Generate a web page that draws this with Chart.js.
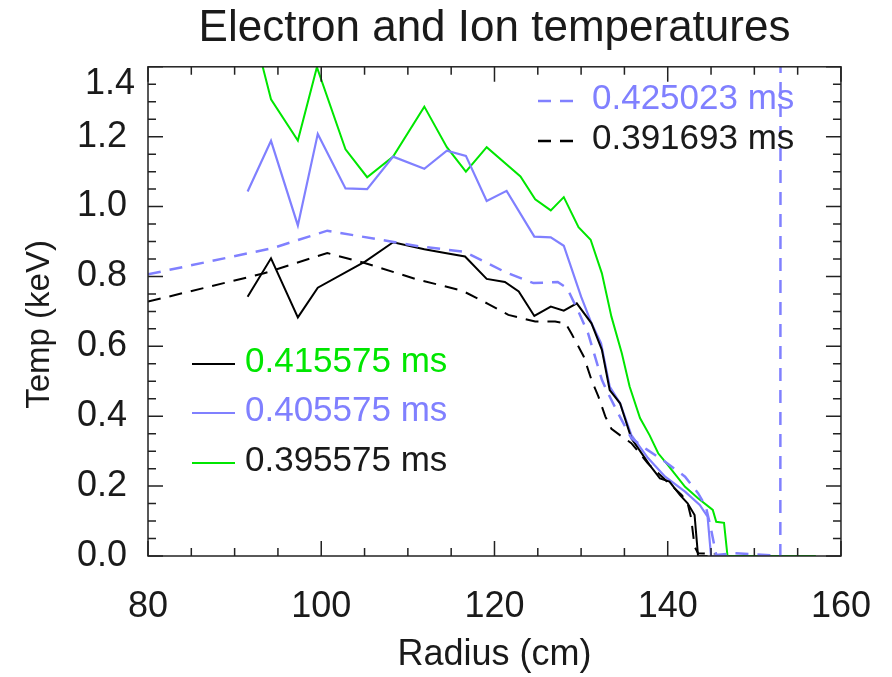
<!DOCTYPE html>
<html>
<head>
<meta charset="utf-8">
<title>Electron and Ion temperatures</title>
<script src="https://cdn.jsdelivr.net/npm/chart.js@4.4.0/dist/chart.umd.min.js"></script>
<style>
  html, body { margin: 0; padding: 0; background: #fff; }
  #wrap { width: 892px; height: 677px; }
</style>
</head>
<body>
<div id="wrap"><canvas id="tempChart" width="892" height="677"></canvas></div>
<script>
// Profile data: radius (cm) / temperature (keV)
const blueDashR = [80.0, 94.4, 100.7, 111.3, 116.5, 121.2, 124.5, 127.3, 128.4, 129.7, 130.8, 131.6, 132.4, 133.1, 134.3, 135.8, 137.7, 139.7, 142.0, 143.5, 144.4, 144.9, 145.6, 147.7, 150.0, 153.0, 153.05]
const blueDashT = [0.806, 0.881, 0.931, 0.886, 0.871, 0.813, 0.781, 0.784, 0.766, 0.699, 0.638, 0.571, 0.504, 0.466, 0.407, 0.337, 0.303, 0.270, 0.227, 0.180, 0.141, 0.089, 0.003, 0.008, 0.005, 0.0, 3.0]

const blackDashR = [80.0, 93.4, 100.7, 105.1, 111.0, 116.3, 119.3, 121.6, 124.7, 127.0, 128.2, 128.9, 130.3, 131.2, 132.0, 132.8, 133.5, 134.7, 135.8, 137.7, 139.7, 141.6, 142.3, 142.7, 143.1, 143.5, 145.4]
const blackDashT = [0.728, 0.809, 0.867, 0.838, 0.792, 0.759, 0.721, 0.690, 0.671, 0.671, 0.666, 0.636, 0.571, 0.504, 0.456, 0.399, 0.364, 0.342, 0.323, 0.265, 0.218, 0.175, 0.151, 0.109, 0.027, 0.008, 0.006]

const blackR = [91.5, 94.2, 97.3, 99.6, 105.1, 108.3, 111.9, 114.3, 116.6, 119.1, 121.2, 122.8, 124.6, 126.5, 128.0, 129.5, 131.2, 132.4, 133.3, 134.5, 135.8, 137.9, 139.1, 140.2, 141.4, 142.3, 143.1, 143.5, 144.6]
const blackT = [0.742, 0.852, 0.683, 0.768, 0.843, 0.898, 0.878, 0.867, 0.857, 0.793, 0.784, 0.757, 0.687, 0.714, 0.702, 0.723, 0.666, 0.590, 0.475, 0.437, 0.337, 0.261, 0.222, 0.213, 0.175, 0.151, 0.117, 0.0, 0.0]

const blueR = [91.5, 94.2, 97.3, 99.6, 102.8, 105.3, 108.3, 111.9, 114.5, 116.7, 119.1, 121.4, 124.6, 126.5, 128.0, 130.0, 131.2, 132.3, 133.3, 134.5, 135.8, 137.7, 139.7, 142.0, 143.7, 144.6, 145.0, 147.0]
const blueT = [1.043, 1.188, 0.946, 1.208, 1.052, 1.050, 1.143, 1.108, 1.160, 1.145, 1.016, 1.045, 0.914, 0.912, 0.888, 0.742, 0.666, 0.609, 0.485, 0.437, 0.346, 0.281, 0.227, 0.184, 0.146, 0.113, 0.0, 0.0]

const greenR = [91.7, 94.2, 97.3, 99.5, 102.8, 105.3, 108.3, 111.9, 114.5, 116.7, 119.1, 123.0, 124.7, 126.5, 128.0, 129.7, 131.1, 132.4, 133.5, 134.7, 135.6, 136.8, 137.9, 138.9, 140.0, 142.0, 143.5, 145.2, 145.6, 146.5, 146.9, 150.0, 157.1]
const greenT = [1.55, 1.307, 1.189, 1.399, 1.164, 1.084, 1.143, 1.286, 1.170, 1.100, 1.170, 1.086, 1.021, 0.989, 1.027, 0.941, 0.905, 0.809, 0.685, 0.580, 0.485, 0.395, 0.346, 0.294, 0.261, 0.198, 0.165, 0.132, 0.098, 0.095, 0.0, 0.0, 0.0]

// Legend labels and ticks
const seriesLabels = ["0.425023 ms", "0.391693 ms", "0.415575 ms", "0.405575 ms", "0.395575 ms"]
const xTicks = [80, 100, 120, 140, 160]
const yTicks = [0.0, 0.2, 0.4, 0.6, 0.8, 1.0, 1.2, 1.4]

const BLUE = "#8080ff"
const GREEN = "#00e600"
const BLACK = "#000000"
const TEXT = "#1a1a1a"
const FONT = "'Liberation Sans', Arial, Helvetica, sans-serif"
const DASH = [13, 9]

function toPoints(xs, ys) {
  return xs.map((x, i) => ({ x: x, y: ys[i] }))
}

// Box frame with inward major/minor ticks on all four sides
const boxPlugin = {
  id: "box",
  afterDraw(chart) {
    const { ctx, chartArea: a, scales } = chart
    const x = scales.x, y = scales.y
    ctx.save()
    ctx.strokeStyle = "#222"
    ctx.lineWidth = 1.5
    ctx.strokeRect(a.left, a.top, a.right - a.left, a.bottom - a.top)
    ctx.beginPath()
    for (let v = 80; v <= 160; v += 5) {
      const px = x.getPixelForValue(v)
      const len = v % 20 === 0 ? 15 : 8
      ctx.moveTo(px, a.bottom); ctx.lineTo(px, a.bottom - len)
      ctx.moveTo(px, a.top); ctx.lineTo(px, a.top + len)
    }
    for (let i = 0; i <= 28; i++) {
      const py = y.getPixelForValue(i * 0.05)
      const len = i % 4 === 0 ? 15 : 8
      ctx.moveTo(a.left, py); ctx.lineTo(a.left + len, py)
      ctx.moveTo(a.right, py); ctx.lineTo(a.right - len, py)
    }
    ctx.stroke()

    ctx.fillStyle = TEXT
    // top label sits a bit below its tick in the original
    ctx.font = "36px " + FONT
    ctx.textAlign = "right"
    ctx.textBaseline = "middle"
    ctx.fillText("1.4", a.left - 13, y.getPixelForValue(1.35))

    // y axis title, a little below the axis centre like the original
    ctx.font = "33px " + FONT
    ctx.textAlign = "center"
    ctx.translate(40, (a.top + a.bottom) / 2 + 13)
    ctx.rotate(-Math.PI / 2)
    ctx.fillText("Temp (keV)", 0, 0)
    ctx.restore()
  }
}

// Two hand-placed legend groups
const legendPlugin = {
  id: "twoLegends",
  afterDraw(chart) {
    const { ctx } = chart
    const rows = [
      { text: seriesLabels[0], line: BLUE, color: BLUE, dash: true, x0: 538, x1: 577, tx: 592, y: 99 },
      { text: seriesLabels[1], line: BLACK, color: TEXT, dash: true, x0: 538, x1: 577, tx: 592, y: 139 },
      { text: seriesLabels[2], line: BLACK, color: GREEN, dash: false, x0: 192, x1: 235, tx: 245, y: 362 },
      { text: seriesLabels[3], line: BLUE, color: BLUE, dash: false, x0: 192, x1: 235, tx: 245, y: 411 },
      { text: seriesLabels[4], line: GREEN, color: TEXT, dash: false, x0: 192, x1: 235, tx: 245, y: 461 },
    ]
    ctx.save()
    ctx.font = "35px " + FONT
    ctx.textAlign = "left"
    ctx.textBaseline = "middle"
    rows.forEach((r) => {
      ctx.beginPath()
      ctx.strokeStyle = r.line
      ctx.lineWidth = r.dash ? 2.5 : 2
      ctx.setLineDash(r.dash ? DASH : [])
      ctx.moveTo(r.x0, r.y + 2)
      ctx.lineTo(r.x1, r.y + 2)
      ctx.stroke()
      ctx.setLineDash([])
      ctx.fillStyle = r.color
      ctx.fillText(r.text, r.tx, r.y)
    })
    ctx.restore()
  }
}

const ctx = document.getElementById("tempChart")
new Chart(ctx, {
  type: "line",
  data: {
    datasets: [
      { label: seriesLabels[0], data: toPoints(blueDashR, blueDashT), borderColor: BLUE, borderWidth: 2.5, borderDash: DASH },
      { label: seriesLabels[1], data: toPoints(blackDashR, blackDashT), borderColor: BLACK, borderWidth: 2, borderDash: DASH },
      { label: seriesLabels[2], data: toPoints(blackR, blackT), borderColor: BLACK, borderWidth: 2 },
      { label: seriesLabels[3], data: toPoints(blueR, blueT), borderColor: BLUE, borderWidth: 2.2 },
      { label: seriesLabels[4], data: toPoints(greenR, greenT), borderColor: GREEN, borderWidth: 2 },
    ],
  },
  options: {
    responsive: false,
    animation: false,
    elements: { point: { radius: 0 }, line: { tension: 0, fill: false } },
    layout: { padding: { left: 0, right: 48, top: 0, bottom: 0 } },
    plugins: {
      legend: { display: false },
      tooltip: { enabled: false },
      title: {
        display: true,
        fullSize: false,
        text: "Electron and Ion temperatures",
        color: TEXT,
        font: { family: FONT, size: 44, weight: "normal" },
        padding: { top: 2, bottom: 12 },
      },
    },
    scales: {
      x: {
        type: "linear",
        min: 80,
        max: 160,
        afterBuildTicks: (s) => { s.ticks = xTicks.map((v) => ({ value: v })) },
        afterFit: (s) => { s.height = 121 },
        ticks: { color: TEXT, font: { family: FONT, size: 36 }, padding: 21, maxRotation: 0, autoSkip: false },
        grid: { display: false },
        border: { display: false },
        title: { display: true, text: "Radius (cm)", color: TEXT, font: { family: FONT, size: 36 }, padding: { top: 0, bottom: 0 } },
      },
      y: {
        type: "linear",
        min: 0,
        max: 1.4,
        afterBuildTicks: (s) => { s.ticks = yTicks.map((v) => ({ value: v })) },
        afterFit: (s) => { s.width = 148 },
        ticks: {
          color: TEXT,
          font: { family: FONT, size: 36 },
          padding: 13,
          autoSkip: false,
          callback: (v) => (Math.abs(v - 1.4) < 1e-6 ? "" : Number(v).toFixed(1)),
        },
        grid: { display: false },
        border: { display: false },
      },
    },
  },
  plugins: [boxPlugin, legendPlugin],
})
</script>
</body>
</html>
